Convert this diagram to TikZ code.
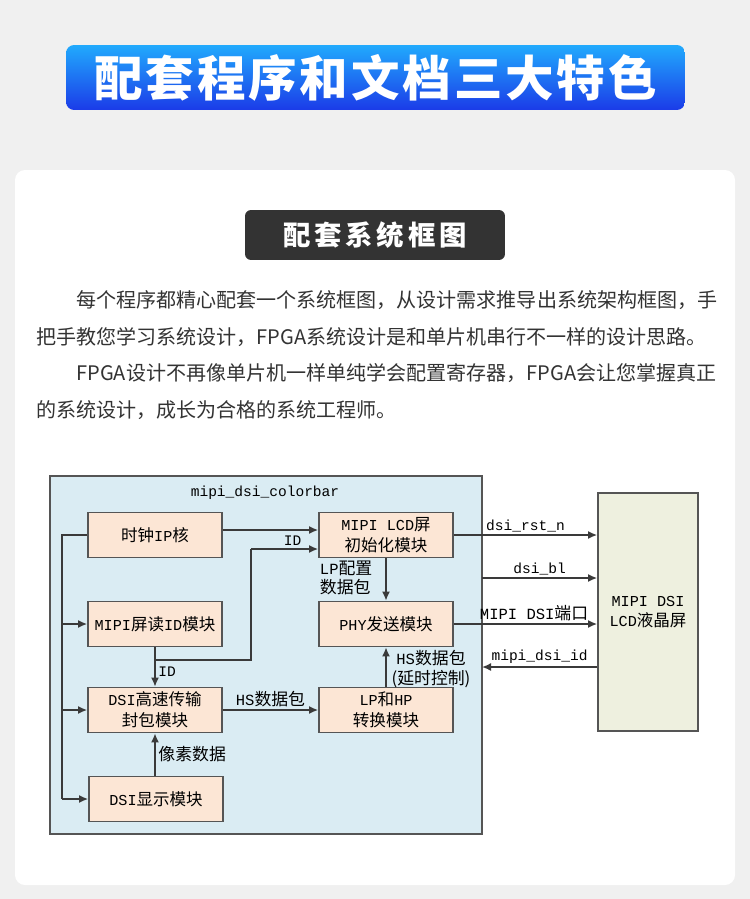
\documentclass[tikz,border=0pt]{standalone}
\usepackage{fontspec}
\setmonofont[Scale=0.92]{Liberation Mono}
\newfontfamily\cjk{Noto Sans CJK SC}
\newfontfamily\cjktitle[LetterSpace=6]{Noto Sans CJK SC}
\newfontfamily\cjksub[LetterSpace=14]{Noto Sans CJK SC}
\usetikzlibrary{arrows.meta,calc}

\definecolor{pagegrey}{HTML}{F0F0F0}
\definecolor{bannertop}{HTML}{21AAFD}
\definecolor{bannerbot}{HTML}{1B3BE8}
\definecolor{subdark}{HTML}{333333}
\definecolor{textgrey}{HTML}{333333}
\definecolor{topfill}{HTML}{DAECF3}
\definecolor{modfill}{HTML}{FCE6D5}
\definecolor{lcdfill}{HTML}{EEF0DF}
\definecolor{edge}{HTML}{555555}
\definecolor{wiregrey}{HTML}{3A3A3A}

\newcommand{\lat}[1]{{\ttfamily #1}}

\begin{document}
\begin{tikzpicture}[x=0.02cm, y=-0.02cm,
    banner/.style={top color=bannertop, bottom color=bannerbot, rounded corners=1.6mm,
        minimum width=12.38cm, minimum height=1.3cm, inner sep=0pt, text=white,
        font=\cjktitle\bfseries\fontsize{27.6}{30}\selectfont},
    subbox/.style={fill=subdark, rounded corners=1.2mm, minimum width=5.2cm,
        minimum height=1cm, inner sep=0pt, text=white,
        font=\cjksub\bfseries\fontsize{15.6}{18}\selectfont},
    para/.style={anchor=west, inner sep=0pt, text=textgrey,
        font=\cjk\fontsize{11.4}{13}\selectfont},
    topbox/.style={draw=edge, fill=topfill, line width=1pt, minimum width=8.64cm,
        minimum height=7.16cm, inner sep=0pt},
    mod/.style={draw=edge, fill=modfill, line width=1pt, minimum width=2.68cm,
        minimum height=0.9cm, inner sep=0pt, align=center,
        font=\cjk\fontsize{9.4}{11.8}\selectfont},
    lcdbox/.style={draw=edge, fill=lcdfill, line width=1pt, minimum width=2cm,
        minimum height=4.76cm, inner sep=0pt, align=center,
        font=\cjk\fontsize{9.4}{11.8}\selectfont},
    lbl/.style={inner sep=1.5pt, font=\cjk\fontsize{9.6}{11.2}\selectfont},
    sig/.style={inner sep=1.5pt, font=\ttfamily\fontsize{9}{11}\selectfont},
    wire/.style={draw=wiregrey, line width=0.9pt},
    arr/.style={wire, -{Latex[length=1.8mm,width=1.6mm]}}]

    \useasboundingbox (0,0) rectangle (750,899);
    \fill[pagegrey] (0,0) rectangle (750,899);
    \fill[white, rounded corners=2mm] (15,170) rectangle (735,885);

    % headings
    \node[banner] (title) at (375.5,77.5) {配套程序和文档三大特色};
    \node[subbox] (sub) at (375,235) {配套系统框图};

    % text
    \node[para] (l1) at (76,300) {每个程序都精心配套一个系统框图，从设计需求推导出系统架构框图，手};
    \node[para] (l2) at (36,337) {把手教您学习系统设计，FPGA系统设计是和单片机串行不一样的设计思路。};
    \node[para] (l3) at (76,373) {FPGA设计不再像单片机一样单纯学会配置寄存器，FPGA会让您掌握真正};
    \node[para] (l4) at (36,410) {的系统设计，成长为合格的系统工程师。};

    % blocks
    \node[topbox] (top) at (266,655) {};
    \node[sig] (toplabel) at (265,493) {mipi\_dsi\_colorbar};
    \node[mod] (clk) at (155,535) {时钟\lat{IP}核};
    \node[mod] (init) at (386,535) {\lat{MIPI LCD}屏\\初始化模块};
    \node[mod] (rdid) at (155,624) {\lat{MIPI}屏读\lat{ID}模块};
    \node[mod] (phy) at (386,624) {\lat{PHY}发送模块};
    \node[mod] (pack) at (155,710) {\lat{DSI}高速传输\\封包模块};
    \node[mod] (lphp) at (386,710) {\lat{LP}和\lat{HP}\\转换模块};
    \node[mod] (disp) at (156,799) {\lat{DSI}显示模块};
    \node[lcdbox] (lcd) at (648,612) {\lat{MIPI DSI}\\\lat{LCD}液晶屏};

    % clock bus
    \coordinate (bustop) at (62,535);
    \coordinate (busbot) at (62,799);
    \draw[wire] (clk.west) -- (bustop) -- (busbot);
    \draw[arr] (bustop |- rdid.west) -- (rdid.west);
    \draw[arr] (bustop |- pack.west) -- (pack.west);
    \draw[arr] (busbot) -- (disp.west);
    \draw[arr] ([yshift=1mm]clk.east) -- ([yshift=1mm]clk.east -| init.west);

    % ID paths
    \coordinate (idj) at (155,660);
    \coordinate (idbend) at (251,660);
    \coordinate (idin) at ($(init.west)+(0,14)$);
    \draw[wire] (idj) -- (idbend) -- (idbend |- idin);
    \draw[arr] (idbend |- idin) -- (idin) node[sig, above, pos=0.62] {ID};
    \draw[arr] (rdid.south) -- (pack.north) node[sig, right, pos=0.62] {ID};

    % data paths
    \draw[arr] (init.south) -- (phy.north);
    \node[lbl, anchor=west, align=left] (lpcfg) at (317,578) {\lat{LP}配置\\数据包};
    \draw[arr] (lphp.north) -- (phy.south);
    \node[lbl, align=center] (hsdly) at (431,669) {\lat{HS}数据包\\(延时控制)};
    \draw[arr] (pack.east) -- (lphp.west) node[lbl, midway, above] {\lat{HS}数据包};
    \draw[arr] (pack.south |- disp.north) -- (pack.south) node[lbl, midway, right] {像素数据};

    % to the screen
    \coordinate (blout) at (482,578);
    \coordinate (idback) at (482,667);
    \draw[arr] (init.east) -- (init.east -| lcd.west) node[sig, midway, above] {dsi\_rst\_n};
    \draw[arr] (blout) -- (blout -| lcd.west) node[sig, midway, above] {dsi\_bl};
    \draw[arr] (phy.east) -- (phy.east -| lcd.west) node[lbl, pos=0.56, above] {\lat{MIPI DSI}端口};
    \draw[arr] (idback -| lcd.west) -- (idback) node[sig, midway, above] {mipi\_dsi\_id};
\end{tikzpicture}
\end{document}
